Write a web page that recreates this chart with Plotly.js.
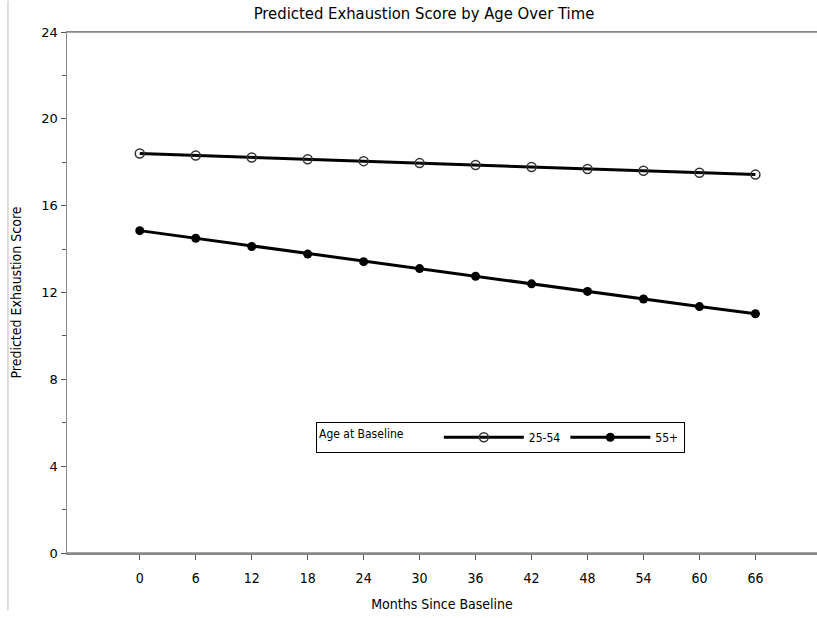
<!DOCTYPE html>
<html>
<head>
<meta charset="utf-8">
<script src="https://cdn.plot.ly/plotly-3.0.1.min.js"></script>
<style>html,body{margin:0;padding:0;background:#fff;}#chart{width:817px;height:618px;}</style>
</head>
<body>
<div id="chart"></div>
<script>
const months = [0, 6, 12, 18, 24, 30, 36, 42, 48, 54, 60, 66];
const age25to54 = [18.40, 18.31, 18.22, 18.14, 18.05, 17.96, 17.87, 17.78, 17.69, 17.61, 17.52, 17.43];
const age55plus = [14.85, 14.50, 14.12, 13.77, 13.42, 13.10, 12.75, 12.40, 12.05, 11.70, 11.35, 11.02];
const seriesNames = ["25-54", "55+"];
const yTicks = [0, 4, 8, 12, 16, 20, 24];

const font = "'DejaVu Sans Condensed', 'DejaVu Sans', sans-serif";

const traces = [
  {
    x: months, y: age25to54, name: seriesNames[0], type: "scatter", mode: "lines+markers",
    line: {color: "#000", width: 3},
    marker: {symbol: "circle-open", size: 9, color: "#333", line: {width: 1.5, color: "#333"}}
  },
  {
    x: months, y: age55plus, name: seriesNames[1], type: "scatter", mode: "lines+markers",
    line: {color: "#000", width: 3},
    marker: {symbol: "circle", size: 9, color: "#000"}
  }
];

const layout = {
  width: 817, height: 618,
  margin: {l: 67, r: 0, t: 32, b: 65, autoexpand: false},
  paper_bgcolor: "#fff", plot_bgcolor: "#fff",
  showlegend: true,
  title: {text: "Predicted Exhaustion Score by Age Over Time", x: 0.476, xref: "paper", xanchor: "center", y: 0.979, yanchor: "middle",
          font: {family: font, size: 16.5, color: "#000"}},
  xaxis: {
    range: [-7.8, 72.6], tickvals: months, ticktext: months.map(String), automargin: false,
    showgrid: false, zeroline: false, showline: true, linecolor: "#888", linewidth: 1.5, mirror: true,
    ticks: "outside", ticklen: 5, tickcolor: "#555", tickwidth: 1, ticklabelstandoff: 7,
    tickfont: {family: font, size: 14, color: "#000"},
    title: {text: "Months Since Baseline", font: {family: font, size: 14, color: "#000"}, standoff: 14}
  },
  yaxis: {
    range: [0, 24], tickvals: yTicks, automargin: false,
    showgrid: false, zeroline: false, showline: true, linecolor: "#888", linewidth: 1.5,
    ticks: "outside", ticklen: 5, tickcolor: "#555", tickwidth: 1,
    minor: {dtick: 2, ticks: "outside", ticklen: 4, tickcolor: "#555", showgrid: false},
    tickfont: {family: "'DejaVu Sans', sans-serif", size: 13, color: "#000"},
    title: {text: "Predicted Exhaustion Score", font: {family: font, size: 14, color: "#000"}, standoff: 16}
  },
  legend: {
    orientation: "h", x: 0.332, y: 0.252, xanchor: "left", yanchor: "top",
    bordercolor: "#000", borderwidth: 1, bgcolor: "#fff",
    title: {text: "Age at Baseline        ", side: "left", font: {family: font, size: 12, color: "#000"}},
    font: {family: font, size: 12, color: "#000"},
    itemwidth: 80, traceorder: "normal"
  },
  shapes: [
    {type: "line", xref: "paper", yref: "paper", x0: -0.0787, x1: -0.0787, y0: -0.11, y1: 1.06,
     line: {color: "#bbb", width: 1}},
    {type: "line", xref: "paper", yref: "paper", x0: 0, x1: 1.05, y0: 1, y1: 1,
     line: {color: "#888", width: 1.5}},
    {type: "line", xref: "paper", yref: "paper", x0: 0, x1: 1.05, y0: 0, y1: 0,
     line: {color: "#888", width: 1.5}}
  ]
};

Plotly.newPlot("chart", traces, layout, {displayModeBar: false, staticPlot: true});
</script>
</body>
</html>
